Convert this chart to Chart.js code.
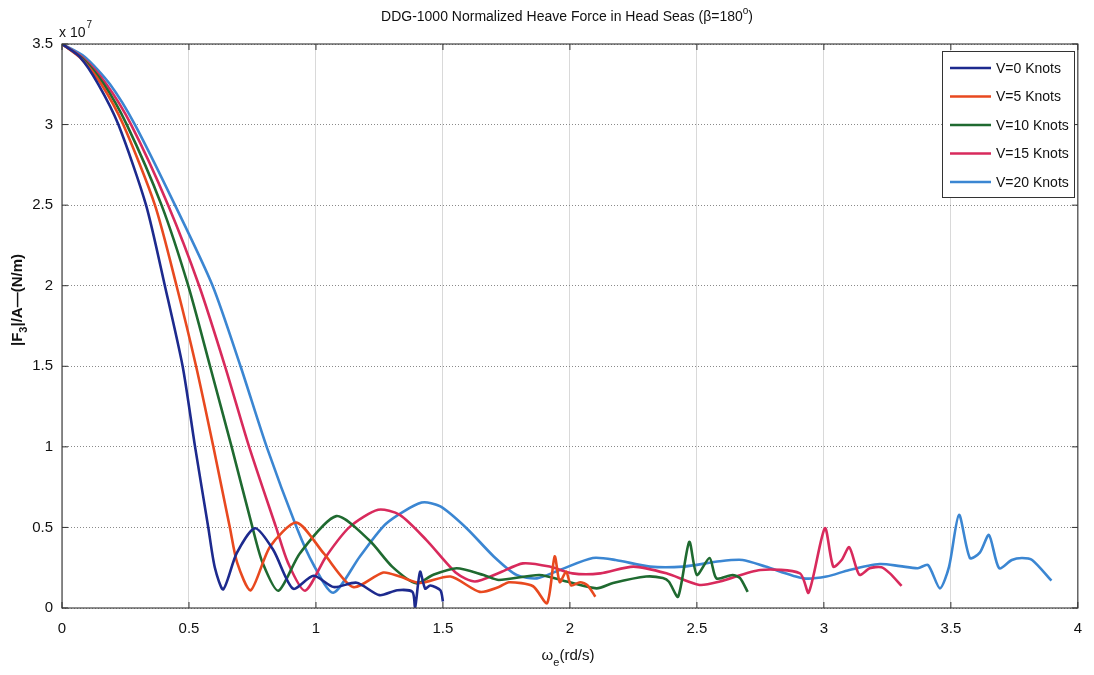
<!DOCTYPE html>
<html>
<head>
<meta charset="utf-8">
<script src="https://cdn.jsdelivr.net/npm/chart.js@4.4.0/dist/chart.umd.min.js"></script>
<style>
html,body{margin:0;padding:0;background:#fff;}
#graph{display:block;}
</style>
</head>
<body>
<canvas id="graph" width="1094" height="675"></canvas>
<script>

// heave force in units of 1e7 N/m, frequency in rd/s
const freqV0=[0,0.07,0.143,0.222,0.331,0.405,0.475,0.524,0.576,0.602,0.635,0.688,0.76,0.832,0.91,0.99,1.07,1.16,1.25,1.32,1.38,1.39,1.41,1.43,1.45,1.49,1.50];
const forceV0=[3.5,3.42,3.25,3.0,2.5,2.0,1.5,1.0,0.5,0.25,0.116,0.34,0.495,0.36,0.12,0.2,0.13,0.157,0.08,0.11,0.10,0.0,0.225,0.12,0.14,0.11,0.04];

const freqV5=[0,0.075,0.155,0.241,0.366,0.451,0.528,0.596,0.661,0.69,0.743,0.819,0.924,1.03,1.146,1.265,1.33,1.41,1.53,1.645,1.72,1.76,1.855,1.91,1.94,1.96,1.985,2.005,2.04,2.07,2.10];
const forceV5=[3.5,3.41,3.25,3.0,2.5,2.0,1.5,1.0,0.5,0.28,0.11,0.38,0.53,0.34,0.13,0.22,0.195,0.155,0.195,0.10,0.13,0.16,0.135,0.03,0.32,0.16,0.225,0.14,0.16,0.14,0.07];

const freqV10=[0,0.08,0.165,0.255,0.392,0.497,0.583,0.668,0.75,0.79,0.852,0.937,1.08,1.21,1.30,1.395,1.46,1.554,1.66,1.72,1.88,1.987,2.105,2.17,2.30,2.366,2.39,2.426,2.47,2.50,2.55,2.577,2.64,2.67,2.70];
const forceV10=[3.5,3.41,3.25,3.0,2.5,2.0,1.5,1.0,0.5,0.28,0.107,0.34,0.57,0.42,0.257,0.153,0.205,0.247,0.205,0.174,0.205,0.164,0.122,0.155,0.195,0.186,0.163,0.07,0.41,0.205,0.31,0.184,0.205,0.186,0.10];

const freqV15=[0,0.085,0.175,0.272,0.418,0.54,0.642,0.737,0.843,0.89,0.957,1.04,1.134,1.245,1.33,1.436,1.554,1.626,1.72,1.815,1.92,2.01,2.12,2.25,2.38,2.51,2.59,2.75,2.906,2.94,3.004,3.037,3.07,3.10,3.14,3.18,3.227,3.26,3.306];
const forceV15=[3.5,3.41,3.25,3.0,2.5,2.0,1.5,1.0,0.5,0.28,0.107,0.32,0.505,0.61,0.578,0.42,0.215,0.164,0.217,0.277,0.257,0.215,0.215,0.257,0.215,0.143,0.164,0.236,0.215,0.095,0.495,0.257,0.298,0.377,0.205,0.247,0.253,0.215,0.137];

const freqV20=[0,0.09,0.189,0.287,0.445,0.593,0.703,0.806,0.924,0.99,1.068,1.173,1.278,1.416,1.49,1.593,1.70,1.79,1.87,1.96,2.09,2.18,2.315,2.446,2.59,2.68,2.77,2.92,3.01,3.10,3.22,3.30,3.37,3.41,3.457,3.493,3.532,3.575,3.614,3.65,3.69,3.74,3.78,3.82,3.896];
const forceV20=[3.5,3.42,3.25,3.0,2.5,2.0,1.5,1.0,0.5,0.27,0.095,0.32,0.526,0.654,0.63,0.495,0.32,0.205,0.184,0.236,0.31,0.298,0.257,0.257,0.29,0.298,0.257,0.184,0.195,0.236,0.273,0.26,0.247,0.267,0.122,0.257,0.578,0.31,0.344,0.453,0.247,0.298,0.31,0.298,0.17];

const seriesLabels=["V=0 Knots","V=5 Knots","V=10 Knots","V=15 Knots","V=20 Knots"];
const seriesColors=["#1d2a8e","#e8491f","#1f6a30","#d82a5c","#3b86d2"];
const seriesFreq=[freqV0,freqV5,freqV10,freqV15,freqV20];
const seriesForce=[forceV0,forceV5,forceV10,forceV15,forceV20];

const FONT="'Liberation Sans',Arial,sans-serif";

function toPoints(xs,ys){
return xs.map((x,i)=>({x:x,y:ys[i]}));
}

const datasets=seriesLabels.map((lab,i)=>({
label:lab,
data:toPoints(seriesFreq[i],seriesForce[i]),
borderColor:seriesColors[i],
backgroundColor:seriesColors[i],
borderWidth:2.6,
pointRadius:0,
tension:0.25,
fill:false
}));

// titles, box, inward ticks and legend in matlab style
const decor={
id:'decor',
afterDraw(chart){
const c=chart.ctx;
const a=chart.chartArea;
const xs=chart.scales.x, ys=chart.scales.y;
c.save();

c.strokeStyle="#444";
c.lineWidth=1.2;
c.strokeRect(a.left,a.top,a.right-a.left,a.bottom-a.top);

c.lineWidth=1;
c.strokeStyle="#333";
xs.ticks.forEach(t=>{
const px=xs.getPixelForValue(t.value);
c.beginPath();c.moveTo(px,a.bottom);c.lineTo(px,a.bottom-6);c.stroke();
c.beginPath();c.moveTo(px,a.top);c.lineTo(px,a.top+6);c.stroke();
});
ys.ticks.forEach(t=>{
const py=ys.getPixelForValue(t.value);
c.beginPath();c.moveTo(a.left,py);c.lineTo(a.left+6,py);c.stroke();
c.beginPath();c.moveTo(a.right,py);c.lineTo(a.right-6,py);c.stroke();
});

c.fillStyle="#111";
c.textBaseline="alphabetic";

// title
c.font="14px "+FONT;
const t1="DDG-1000 Normalized Heave Force in Head Seas (\u03b2=180";
const w1=c.measureText(t1).width;
c.font="10px "+FONT;
const wo=c.measureText("o").width;
c.font="14px "+FONT;
const w2=c.measureText(")").width;
let tx=567-(w1+wo+w2)/2;
c.textAlign="left";
c.fillText(t1,tx,21);
c.font="10px "+FONT;
c.fillText("o",tx+w1,14);
c.font="14px "+FONT;
c.fillText(")",tx+w1+wo,21);

// exponent
c.font="14px "+FONT;
c.fillText("x 10",59,37);
const wx=c.measureText("x 10").width;
c.font="10px "+FONT;
c.fillText("7",59+wx+1,28);

// x axis title
c.font="15px "+FONT;
const wa=c.measureText("\u03c9").width;
c.font="11px "+FONT;
const wb=c.measureText("e").width;
c.font="15px "+FONT;
const wc=c.measureText("(rd/s)").width;
let ax=568-(wa+wb+wc)/2;
c.fillText("\u03c9",ax,660);
c.font="11px "+FONT;
c.fillText("e",ax+wa,666);
c.font="15px "+FONT;
c.fillText("(rd/s)",ax+wa+wb,660);

// y axis title
c.translate(22,300);
c.rotate(-Math.PI/2);
c.font="bold 15px "+FONT;
const p1="|F", p3="|/A\u2014(N/m)";
const q1=c.measureText(p1).width;
const q3=c.measureText(p3).width;
c.font="bold 11px "+FONT;
const q2=c.measureText("3").width;
let yx=-(q1+q2+q3)/2;
c.font="bold 15px "+FONT;
c.fillText(p1,yx,0);
c.font="bold 11px "+FONT;
c.fillText("3",yx+q1,5);
c.font="bold 15px "+FONT;
c.fillText(p3,yx+q1+q2,0);
c.setTransform(1,0,0,1,0,0);

// legend
const lx=942, ly=51, lw=132, lh=146;
c.fillStyle="#fff";
c.fillRect(lx,ly,lw,lh);
c.strokeStyle="#333";
c.lineWidth=1;
c.strokeRect(lx+0.5,ly+0.5,lw,lh);
c.font="14px "+FONT;
c.textBaseline="middle";
chart.data.datasets.forEach((d,i)=>{
const ry=ly+17+i*28.5;
c.strokeStyle=d.borderColor;
c.lineWidth=2.6;
c.beginPath();c.moveTo(lx+8,ry);c.lineTo(lx+49,ry);c.stroke();
c.fillStyle="#111";
c.fillText(d.label,lx+54,ry+1);
});

c.restore();
}
};

new Chart(document.getElementById("graph"),{
type:'line',
data:{datasets:datasets},
options:{
responsive:false,
animation:false,
layout:{padding:{top:44,right:16,left:0,bottom:0}},
plugins:{legend:{display:false},tooltip:{enabled:false},title:{display:false}},
scales:{
x:{
type:'linear',
min:0,max:4,
border:{display:false},
grid:{color:"#d9d9d9",lineWidth:1,drawTicks:false},
ticks:{stepSize:0.5,padding:12,color:"#111",font:{family:FONT,size:15},maxRotation:0,callback:v=>String(v)},
afterFit(s){s.height=67;}
},
y:{
min:0,max:3.5,
border:{display:false,dash:[1,2]},
grid:{color:"#8a8a8a",lineWidth:1,drawTicks:false},
ticks:{stepSize:0.5,padding:9,color:"#111",font:{family:FONT,size:15},callback:v=>String(v)},
afterFit(s){s.width=62;}
}
}
},
plugins:[decor]
});

</script>
</body>
</html>
